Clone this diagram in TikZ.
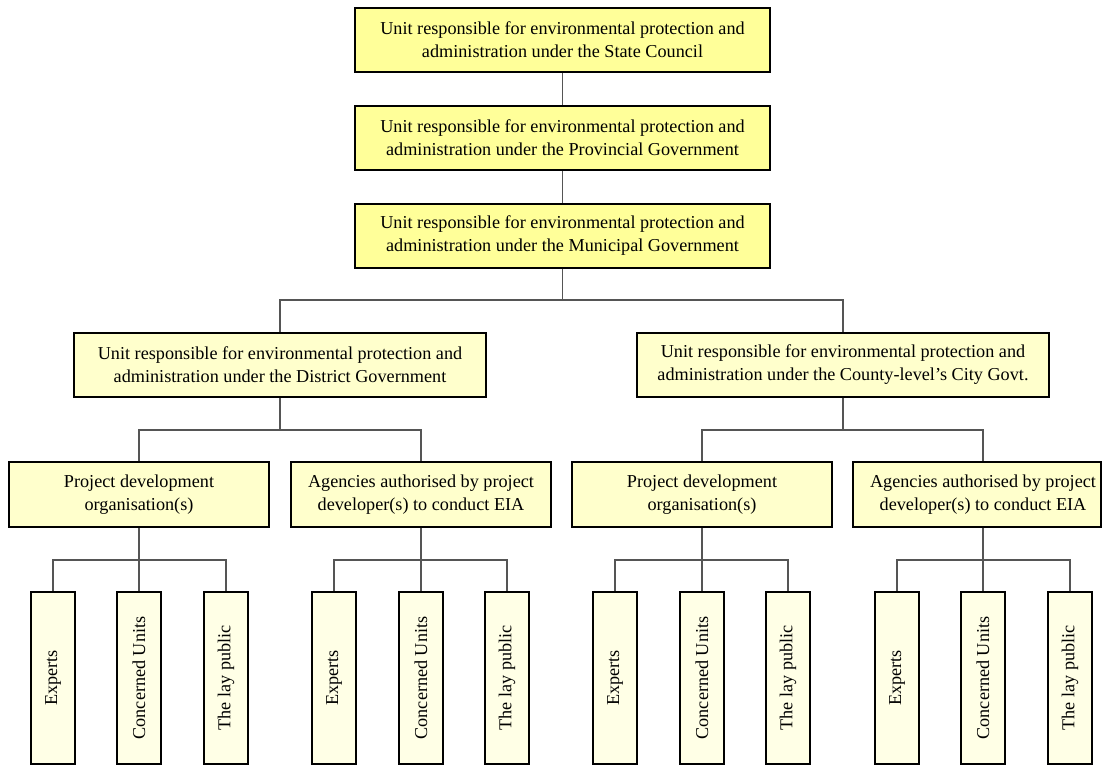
\documentclass[tikz,border=0pt]{standalone}
\usepackage{fontspec}
\setmainfont{Liberation Serif}
\definecolor{topfill}{HTML}{FFFF99}
\definecolor{midfill}{HTML}{FFFFCC}
\definecolor{leaffill}{HTML}{FFFFE6}
\definecolor{connc}{HTML}{555555}
\tikzset{
  box/.style={draw=black, line width=1.6pt, align=center, inner sep=0pt,
    font=\fontsize{18.2}{23}\selectfont},
  topbox/.style={box, fill=topfill, minimum width=415pt, minimum height=64pt},
  unitbox/.style={box, fill=midfill, minimum width=412pt, minimum height=64pt},
  projbox/.style={box, fill=midfill, minimum width=260pt, minimum height=65pt},
  leafbox/.style={box, fill=leaffill, minimum width=44pt, minimum height=172pt},
  leaftext/.style={rotate=90, font=\fontsize{18.2}{23}\selectfont},
  conn/.style={draw=connc, line width=1.1pt}
}
\begin{document}
\begin{tikzpicture}[x=1pt,y=-1pt]
\useasboundingbox (0,0) rectangle (1103,765);
% top chain
\node[topbox] (s) at (562.5,40) {Unit responsible for environmental protection and\\administration under the State Council};
\node[topbox] (p) at (562.5,138) {Unit responsible for environmental protection and\\administration under the Provincial Government};
\node[topbox] (m) at (562.5,236) {Unit responsible for environmental protection and\\administration under the Municipal Government};
\node[unitbox] (d) at (280,365) {Unit responsible for environmental protection and\\administration under the District Government};
\node[unitbox] (c) at (843,365) {Unit responsible for environmental protection and\\administration under the County-level’s City Govt.};
% second level
\node[projbox] (pa) at (139,494.5) {Project development\\organisation(s)};
\node[projbox] (aa) at (421,494.5) {Agencies authorised by project\\developer(s) to conduct EIA};
\node[projbox] (pb) at (702,494.5) {Project development\\organisation(s)};
\node[projbox, minimum width=248pt] (ab) at (977,494.5) {\hspace*{12pt}Agencies authorised by project\\\hspace*{12pt}developer(s) to conduct EIA};
\coordinate (abc) at (983,494.5);
% leaves
\foreach \n/\x in {pa/53,aa/334,pb/615,ab/897}{
  \node[leafbox] (\n e) at (\x,678) {};
  \node[leaftext] at (\n e) {Experts};
}
\foreach \n/\x in {pa/139,aa/421,pb/702,ab/983}{
  \node[leafbox] (\n c) at (\x,678) {};
  \node[leaftext] at (\n c) {Concerned Units};
}
\foreach \n/\x in {pa/226,aa/507,pb/788,ab/1070}{
  \node[leafbox] (\n l) at (\x,678) {};
  \node[leaftext] at (\n l) {The lay public};
}
% bars
\coordinate (bar1) at (0,300);
\coordinate (bar2) at (0,430);
\coordinate (bar3) at (0,560);
% connectors
\draw[conn] (s.south) -- (p.north);
\draw[conn] (p.south) -- (m.north);
\draw[conn] (m.south) -- (m.south |- bar1);
\draw[conn] (d.north) |- (c.north |- bar1) -- (c.north);
\draw[conn] (d.south) -- (d.south |- bar2);
\draw[conn] (pa.north) |- (aa.north |- bar2) -- (aa.north);
\draw[conn] (c.south) -- (c.south |- bar2);
\draw[conn] (pb.north) |- (abc |- bar2) -- (abc |- ab.north);
\foreach \n in {pa,aa,pb}{
  \draw[conn] (\n.south) -- (\n c.north);
  \draw[conn] (\n e.north) |- (\n l.north |- bar3) -- (\n l.north);
}
\draw[conn] (abc |- ab.south) -- (abc.north);
\draw[conn] (abe.north) |- (abl.north |- bar3) -- (abl.north);
\end{tikzpicture}
\end{document}
